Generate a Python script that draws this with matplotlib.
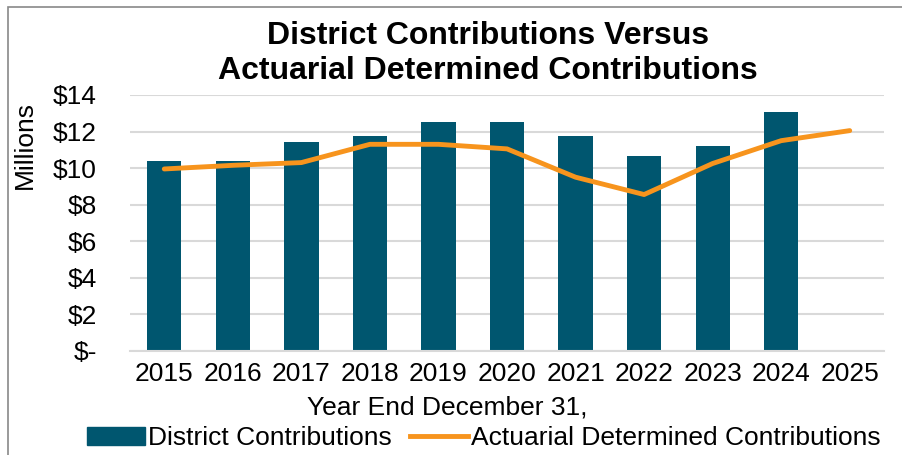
import numpy as np
import matplotlib
matplotlib.use("Agg")
import matplotlib.pyplot as plt
from matplotlib.patches import Rectangle
from matplotlib.lines import Line2D
from matplotlib.ticker import FuncFormatter

plt.rcParams['font.family'] = ['Liberation Sans', 'DejaVu Sans']

years = ['2015', '2016', '2017', '2018', '2019', '2020',
         '2021', '2022', '2023', '2024', '2025']
district = [10.4, 10.4, 11.4, 11.75, 12.5, 12.5, 11.75, 10.65, 11.2, 13.05]
actuarial = [9.95, 10.15, 10.3, 11.3, 11.3, 11.05, 9.5, 8.55, 10.25, 11.5, 12.05]

bar_color = '#00566F'
line_color = '#F7941D'
grid_color = '#D9D9D9'

fig = plt.figure(figsize=(9.02, 4.55), dpi=100)
ax = fig.add_axes([130 / 902, 1 - 350.7 / 455, 754 / 902, (350.7 - 95) / 455])

x = np.arange(len(years))
ax.bar(x[:len(district)], district, width=0.5, color=bar_color, zorder=2)
ax.plot(x, actuarial, color=line_color, linewidth=3.5, solid_capstyle='round', zorder=3)

ax.set_xlim(-0.5, len(years) - 0.5)
ax.set_ylim(0, 14)
ax.set_yticks(np.arange(0, 15, 2))
ax.yaxis.set_major_formatter(FuncFormatter(lambda v, p: '$-' if v == 0 else f'${v:.0f}'))
ax.set_xticks(x)
ax.set_xticklabels(years)
ax.tick_params(axis='both', length=0, labelsize=19)
ax.tick_params(axis='x', pad=8)
ax.tick_params(axis='y', pad=24)
for lbl in ax.get_yticklabels():
    lbl.set_horizontalalignment('right')

ax.grid(axis='y', color=grid_color, linewidth=1.5, zorder=0)
for s in ['top', 'right', 'left']:
    ax.spines[s].set_visible(False)
ax.spines['bottom'].set_color(grid_color)
ax.spines['bottom'].set_linewidth(1.5)

fig.text(25 / 902, 1 - 145 / 455, 'Millions', rotation=90, ha='center', va='center', fontsize=19)
fig.text(488 / 902, 1 - 36 / 455, 'District Contributions Versus', ha='center', va='center',
         fontsize=23, fontweight='bold')
fig.text(488 / 902, 1 - 71 / 455, 'Actuarial Determined Contributions', ha='center', va='center',
         fontsize=23, fontweight='bold')
fig.text(447 / 902, 1 - 407 / 455, 'Year End December 31,', ha='center', va='center', fontsize=19)

handles = [Rectangle((0, 0), 1, 1, color=bar_color),
           Line2D([0], [0], color=line_color, linewidth=3.5)]
fig.legend(handles, ['District Contributions', 'Actuarial Determined Contributions'],
           loc='center', bbox_to_anchor=(484 / 902, 1 - 438 / 455), ncol=2, frameon=False,
           fontsize=19, handlelength=2.2, handleheight=0.7, handletextpad=0.1,
           columnspacing=0.7, borderaxespad=0)

fig.add_artist(Rectangle((8 / 902, -0.1), 1.2, 1 - 7 / 455 + 0.1, transform=fig.transFigure,
                         fill=False, edgecolor='#898989', linewidth=1.2))

fig.savefig('out.png', dpi=100)
